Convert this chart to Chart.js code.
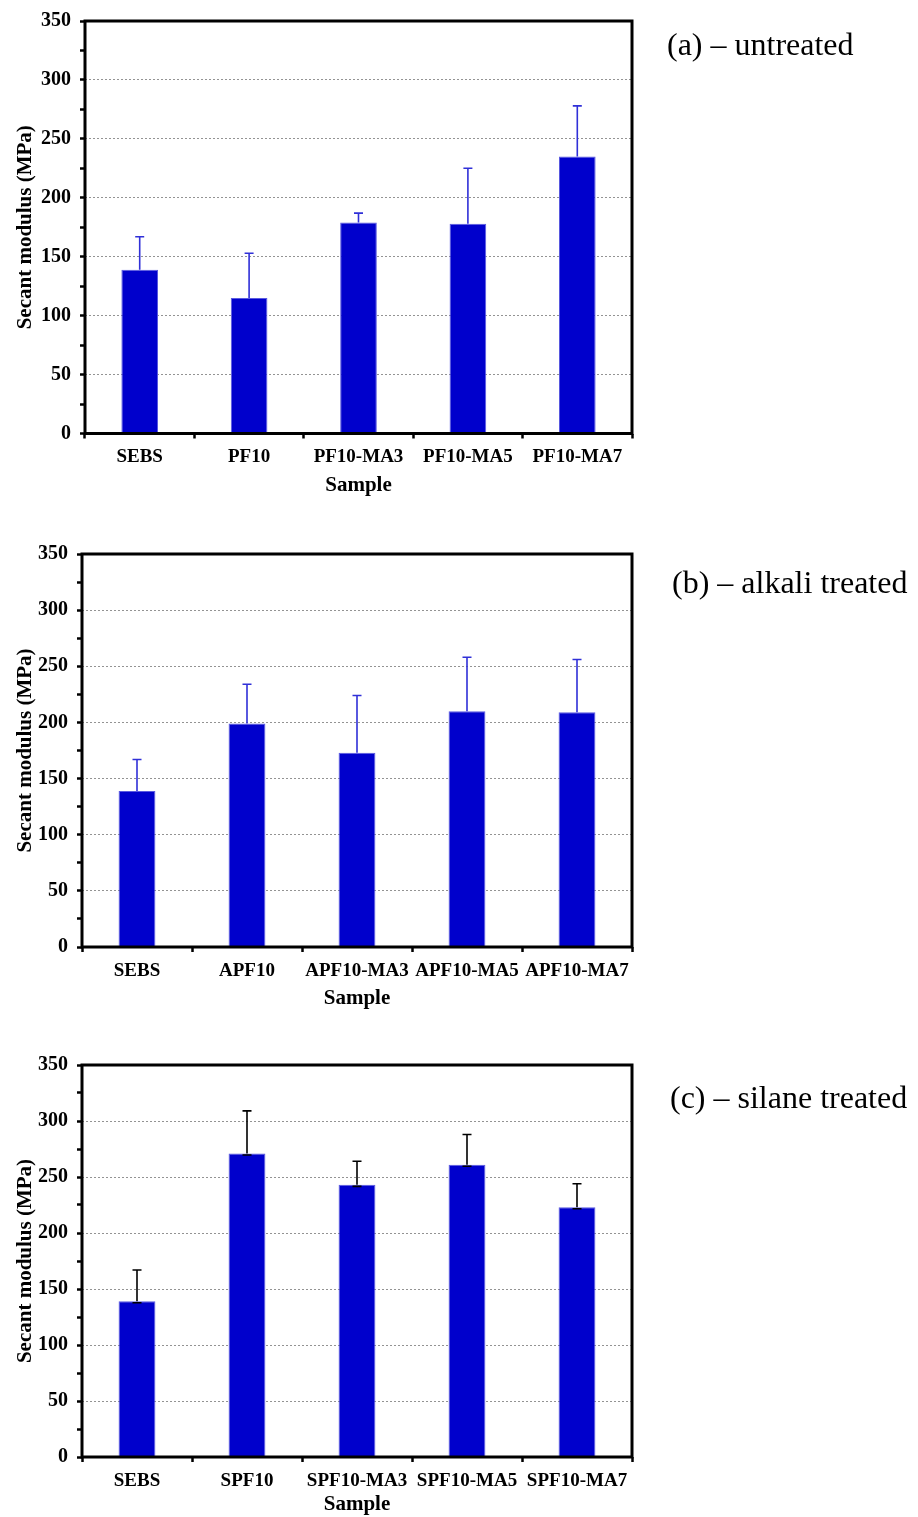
<!DOCTYPE html>
<html>
<head>
<meta charset="utf-8">
<script src="https://cdn.jsdelivr.net/npm/chart.js@4.4.1/dist/chart.umd.min.js"></script>
<style>
  html, body { margin: 0; padding: 0; background: #fff; }
  #wrap { position: relative; width: 918px; height: 1517px; overflow: hidden; }
  #wrap canvas { position: absolute; left: 0; }
</style>
</head>
<body>
<div id="wrap">
  <canvas id="chartA" width="918" height="510" style="top:0px;width:918px;height:510px"></canvas>
  <canvas id="chartB" width="918" height="510" style="top:520px;width:918px;height:510px"></canvas>
  <canvas id="chartC" width="918" height="482" style="top:1035px;width:918px;height:482px"></canvas>
</div>
<script>
// Secant modulus (MPa), mean and standard deviation per sample
const samplesA = ['SEBS', 'PF10', 'PF10-MA3', 'PF10-MA5', 'PF10-MA7'];
const modulusA = [139, 115, 179, 178, 235];
const errorA   = [28, 38, 8, 47, 43];

const samplesB = ['SEBS', 'APF10', 'APF10-MA3', 'APF10-MA5', 'APF10-MA7'];
const modulusB = [139, 199, 173, 210, 209];
const errorB   = [28, 35, 51, 48, 47];

const samplesC = ['SEBS', 'SPF10', 'SPF10-MA3', 'SPF10-MA5', 'SPF10-MA7'];
const modulusC = [139, 271, 243, 261, 223];
const errorC   = [28, 38, 21, 27, 21];

const yLabels = [0, 50, 100, 150, 200, 250, 300, 350];
const yMinorStep = 25;

const panelTitles = ['(a) \u2013 untreated', '(b) \u2013 alkali treated', '(c) \u2013 silane treated'];

const SERIF = "'Liberation Serif', 'Times New Roman', serif";

// plus-direction error bars drawn on top of each bar
const errorBars = {
  id: 'errorBars',
  afterDatasetsDraw(chart, args, opts) {
    const meta = chart.getDatasetMeta(0);
    const y = chart.scales.y;
    const values = chart.data.datasets[0].data;
    const ctx = chart.ctx;
    ctx.save();
    ctx.strokeStyle = opts.color;
    ctx.lineWidth = opts.width;
    meta.data.forEach((bar, i) => {
      const base = y.getPixelForValue(values[i]);
      const top = y.getPixelForValue(values[i] + opts.errors[i]);
      ctx.beginPath();
      ctx.moveTo(bar.x, base);
      ctx.lineTo(bar.x, top);
      ctx.moveTo(bar.x - opts.cap, top);
      ctx.lineTo(bar.x + opts.cap, top);
      if (opts.lowerCap) {
        ctx.moveTo(bar.x - opts.cap, base + 1.5);
        ctx.lineTo(bar.x + opts.cap, base + 1.5);
      }
      ctx.stroke();
    });
    ctx.restore();
  }
};

// black frame around the plotting area plus the panel caption
const frameAndCaption = {
  id: 'frameAndCaption',
  afterDraw(chart, args, opts) {
    const {ctx, chartArea: a} = chart;
    ctx.save();
    ctx.strokeStyle = '#000';
    ctx.lineWidth = 3;
    ctx.strokeRect(a.left, a.top, a.right - a.left, a.bottom - a.top);
    ctx.fillStyle = '#000';
    ctx.font = '32px ' + SERIF;
    ctx.textBaseline = 'alphabetic';
    ctx.textAlign = 'left';
    ctx.fillText(opts.text, opts.x, opts.y);
    ctx.restore();
  }
};

function makePanel(id, labels, values, errors, cfg) {
  return new Chart(document.getElementById(id), {
    type: 'bar',
    data: {
      labels: labels,
      datasets: [{
        data: values,
        backgroundColor: '#0000CC',
        borderColor: '#5a5ae0',
        borderWidth: {left: 1, right: 1, top: 1, bottom: 0},
        categoryPercentage: 1.0,
        barPercentage: 0.335
      }]
    },
    options: {
      responsive: false,
      animation: false,
      devicePixelRatio: 1,
      layout: { padding: { top: cfg.padTop, right: 286, bottom: 0, left: 0 } },
      plugins: {
        legend: { display: false },
        tooltip: { enabled: false },
        errorBars: { errors: errors, color: cfg.errColor, width: 1.6, cap: 4.5, lowerCap: cfg.lowerCap },
        frameAndCaption: { text: cfg.caption, x: cfg.capX, y: cfg.capY }
      },
      scales: {
        x: {
          offset: true,
          afterFit: s => { s.height = cfg.xHeight; },
          grid: {
            offset: true,
            drawOnChartArea: false,
            drawTicks: true,
            tickLength: 5,
            tickWidth: 2.5,
            tickColor: '#000'
          },
          border: { display: false },
          ticks: {
            color: '#000',
            font: { family: SERIF, size: 19, weight: 'bold' },
            padding: 7.5,
            maxRotation: 0,
            autoSkip: false
          },
          title: {
            display: true,
            text: 'Sample',
            color: '#000',
            font: { family: SERIF, size: 21, weight: 'bold' },
            padding: { top: 0, bottom: cfg.titlePad }
          }
        },
        y: {
          min: 0,
          max: 350,
          afterFit: s => { s.width = cfg.yWidth; },
          grid: {
            drawTicks: true,
            tickLength: 5,
            tickWidth: 2.5,
            tickColor: '#000',
            lineWidth: 1,
            color: ctx => {
              const v = ctx.tick ? ctx.tick.value : null;
              return (v !== null && v > 0 && v < 350 && yLabels.includes(v)) ? '#939393' : 'rgba(0,0,0,0)';
            }
          },
          border: { display: false, dash: [2, 2] },
          ticks: {
            stepSize: yMinorStep,
            color: '#000',
            font: { family: SERIF, size: 20, weight: 'bold' },
            padding: 9,
            callback: v => yLabels.includes(v) ? String(v) : ''
          },
          title: {
            display: true,
            text: 'Secant modulus (MPa)',
            color: '#000',
            font: { family: SERIF, size: 21, weight: 'bold' },
            padding: { top: 13, bottom: 0 }
          }
        }
      }
    },
    plugins: [errorBars, frameAndCaption]
  });
}

makePanel('chartA', samplesA, modulusA, errorA, {
  padTop: 18, xHeight: 76.5, yWidth: 85, titlePad: 12,
  errColor: '#3030d8', lowerCap: false,
  caption: panelTitles[0], capX: 667, capY: 55
});
makePanel('chartB', samplesB, modulusB, errorB, {
  padTop: 34, xHeight: 83, yWidth: 82, titlePad: 18.5,
  errColor: '#3030d8', lowerCap: false,
  caption: panelTitles[1], capX: 672, capY: 73
});
makePanel('chartC', samplesC, modulusC, errorC, {
  padTop: 30, xHeight: 60, yWidth: 82, titlePad: 0,
  errColor: '#000', lowerCap: true,
  caption: panelTitles[2], capX: 670, capY: 73
});
</script>
</body>
</html>
